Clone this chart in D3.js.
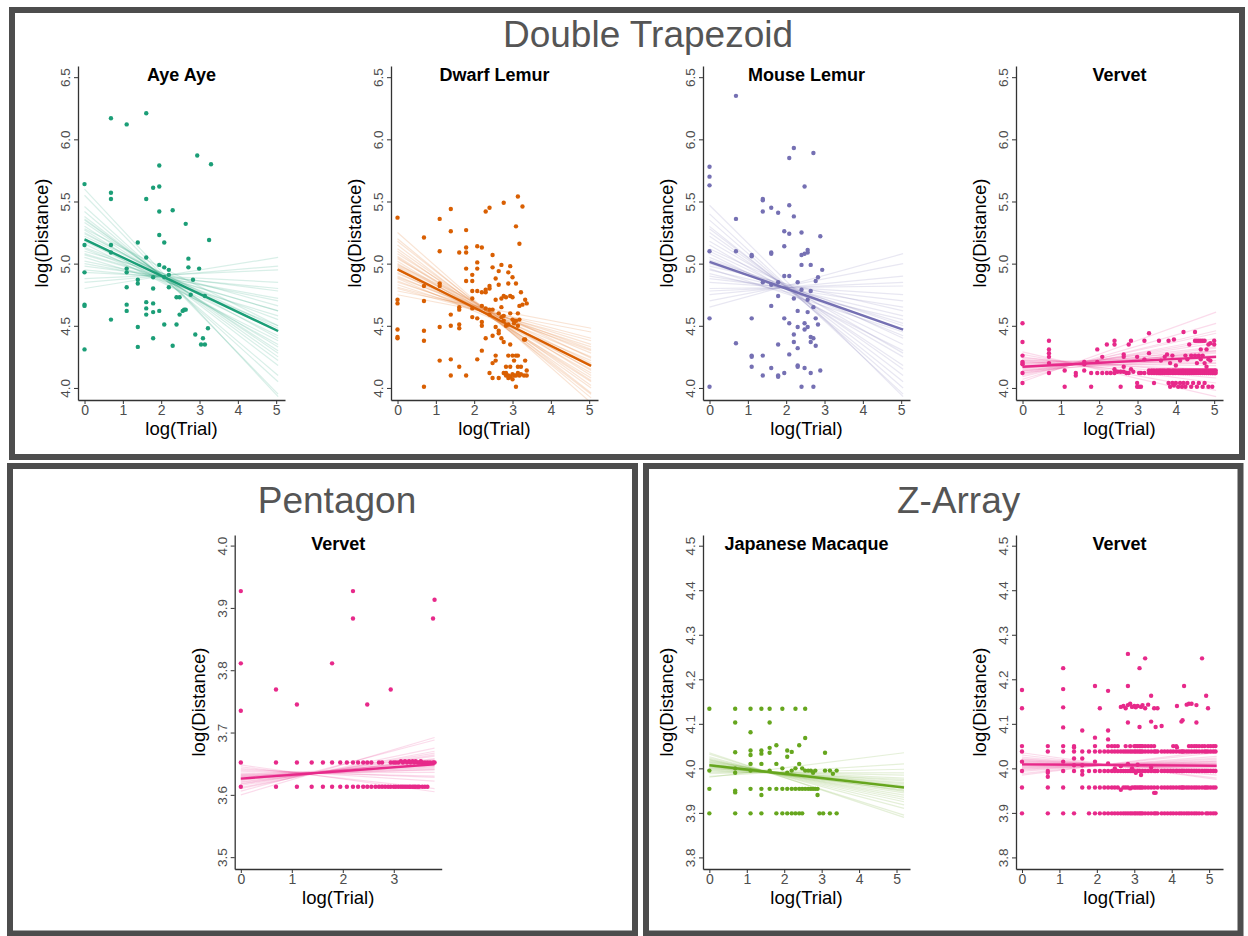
<!DOCTYPE html>
<html>
<head>
<meta charset="utf-8">
<script src="https://cdn.jsdelivr.net/npm/d3@7"></script>
<style>
  body { margin: 0; background: #fff; }
  svg { display: block; font-family: "Liberation Sans", Arial, sans-serif; }
</style>
</head>
<body>
<div id="chart"></div>
<script>
// ---- data: [log(Trial), [log(Distance) values...]] ----
var ayeAyePoints = [
  [0, [5.64, 5.15, 4.93, 4.67, 4.66, 4.31]],
  [0.69, [6.17, 5.57, 5.52, 5.15, 5.09, 4.55]],
  [1.10, [6.12, 4.96, 4.93, 4.81, 4.67, 4.62]],
  [1.39, [5.17, 4.87, 4.84, 4.49, 4.33]],
  [1.61, [6.21, 5.52, 5.05, 4.69, 4.64, 4.59]],
  [1.79, [5.61, 4.89, 4.80, 4.68, 4.61, 4.40]],
  [1.95, [5.79, 5.62, 5.42, 5.23, 4.99, 4.62]],
  [2.08, [5.17, 4.97, 4.89, 4.51]],
  [2.20, [4.95, 4.91, 4.81]],
  [2.30, [5.43, 4.34]],
  [2.40, [4.73, 4.51]],
  [2.48, [4.73, 4.59]],
  [2.56, [4.62]],
  [2.60, [4.63]],
  [2.64, [5.32, 4.63]],
  [2.71, [5.04, 4.97]],
  [2.77, [4.75]],
  [2.83, [4.87]],
  [2.89, [4.43]],
  [2.94, [5.87]],
  [2.99, [4.96]],
  [3.04, [4.35]],
  [3.09, [4.40]],
  [3.14, [4.35, 4.74]],
  [3.22, [4.48]],
  [3.25, [5.19]],
  [3.30, [5.80]]
];
var dwarfLemurPoints = [
  [0, [5.37, 4.71, 4.68, 4.47, 4.41, 4.40]],
  [0.69, [5.21, 4.82, 4.70, 4.46, 4.38, 4.01]],
  [1.10, [5.36, 5.10, 4.84, 4.82, 4.49, 4.22]],
  [1.39, [5.44, 5.26, 4.59, 4.50, 4.23, 4.10]],
  [1.61, [5.09, 4.65, 4.63, 4.51, 4.48, 4.17]],
  [1.79, [5.27, 5.13, 5.09, 4.96, 4.86, 4.10]],
  [1.95, [4.91, 4.86, 4.78, 4.72, 4.64, 4.57]],
  [2.08, [5.14, 5.01, 4.96, 4.78, 4.56, 4.23]],
  [2.20, [5.13, 4.77, 4.66, 4.53, 4.50, 4.30]],
  [2.30, [5.42, 4.79, 4.77, 4.64, 4.40]],
  [2.40, [5.45, 4.82, 4.80, 4.63, 4.59, 4.12]],
  [2.48, [5.07, 4.97, 4.63, 4.42, 4.20, 4.08]],
  [2.56, [4.88, 4.71, 4.49, 4.26, 4.22]],
  [2.64, [4.94, 4.83, 4.60, 4.46, 4.44, 4.08]],
  [2.71, [4.99, 4.72, 4.65, 4.57, 4.40]],
  [2.77, [5.49, 4.74, 4.58, 4.54, 4.37, 4.12]],
  [2.83, [4.73, 4.50, 4.17, 4.12, 4.10]],
  [2.89, [4.93, 4.84, 4.51, 4.26, 4.10, 4.08]],
  [2.94, [4.98, 4.74, 4.60, 4.35, 4.17, 4.09]],
  [3.00, [4.89, 4.73, 4.55, 4.26, 4.11, 4.07]],
  [3.04, [4.54, 4.52, 4.22, 4.10]],
  [3.09, [5.30, 4.84, 4.54, 4.26, 4.10, 4.01]],
  [3.14, [5.54, 4.60, 4.50, 4.26, 4.17, 4.12]],
  [3.18, [5.16, 4.66, 4.55, 4.10]],
  [3.22, [4.77, 4.17, 4.11]],
  [3.26, [5.46, 4.67]],
  [3.30, [4.39, 4.10]],
  [3.33, [4.71, 4.39, 4.22]],
  [3.37, [4.68, 4.14, 4.10]]
];
var mouseLemurPoints = [
  [0, [5.78, 5.70, 5.63, 5.10, 4.56, 4.01]],
  [0.69, [6.35, 5.36, 5.10, 4.36]],
  [1.10, [5.07, 5.06, 4.56, 4.26, 4.25, 4.17]],
  [1.39, [5.52, 5.51, 5.42, 4.85, 4.26, 4.10]],
  [1.61, [5.45, 5.09, 5.08, 4.83, 4.66, 4.16]],
  [1.79, [5.41, 4.85, 4.74, 4.35, 4.10, 4.09]],
  [1.95, [5.26, 5.14, 4.90, 4.56, 4.12]],
  [2.08, [5.85, 5.47, 5.24, 4.90, 4.52, 4.27]],
  [2.20, [5.93, 5.38, 4.72, 4.43, 4.37]],
  [2.30, [4.85, 4.62, 4.49, 4.32, 4.18, 4.17]],
  [2.40, [5.25, 5.07, 4.99, 4.79, 4.01]],
  [2.48, [5.62, 5.08, 4.52, 4.47, 4.16]],
  [2.56, [5.11, 5.09, 4.71, 4.61, 4.49]],
  [2.64, [4.99, 4.78, 4.41, 4.37, 4.12]],
  [2.71, [5.89, 4.65, 4.40, 4.01]],
  [2.77, [4.86, 4.56, 4.34]],
  [2.83, [4.89, 4.51]],
  [2.89, [5.22, 4.14]],
  [2.94, [4.95]]
];
var vervetDTPoints = [
  [0, [4.52, 4.37, 4.26, 4.21, 4.20, 4.19, 4.12, 4.04]],
  [0.69, [4.38, 4.31, 4.28, 4.25, 4.20, 4.12]],
  [1.10, [4.14, 4.01]],
  [1.39, [4.12, 4.10]],
  [1.61, [4.21, 4.19, 4.14]],
  [1.79, [4.12, 4.01]],
  [1.95, [4.31, 4.21, 4.12]],
  [2.08, [4.25, 4.12]],
  [2.20, [4.35, 4.12]],
  [2.30, [4.12]],
  [2.40, [4.38, 4.35, 4.15, 4.12]],
  [2.48, [4.13]],
  [2.56, [4.13, 4.01]],
  [2.64, [4.27, 4.25, 4.17, 4.13]],
  [2.71, [4.12]],
  [2.77, [4.35, 4.12]],
  [2.83, [4.38, 4.15]],
  [2.89, [4.13]],
  [2.99, [4.25, 4.04, 4.01]],
  [3.04, [4.12, 4.01]],
  [3.09, [4.12, 4.01]],
  [3.18, [4.38, 4.23, 4.12]],
  [3.30, [4.44, 4.28, 4.14, 4.12]],
  [3.37, [4.14, 4.12]],
  [3.43, [4.14, 4.12, 4.04]],
  [3.50, [4.14, 4.12]],
  [3.56, [4.38, 4.14, 4.12]],
  [3.61, [4.22, 4.14, 4.12]],
  [3.66, [4.14, 4.12]],
  [3.71, [4.25, 4.14, 4.12]],
  [3.77, [4.27, 4.14, 4.12]],
  [3.81, [4.38, 4.14, 4.12, 4.04]],
  [3.85, [4.20, 4.14, 4.12, 4.01]],
  [3.91, [4.26, 4.14, 4.12, 4.04]],
  [3.95, [4.39, 4.14, 4.12, 4.02]],
  [4.00, [4.18, 4.14, 4.12, 4.04]],
  [4.06, [4.14, 4.12, 4.01]],
  [4.11, [4.22, 4.14, 4.12, 4.04]],
  [4.16, [4.14, 4.12, 4.01]],
  [4.20, [4.45, 4.14, 4.12, 4.04]],
  [4.25, [4.26, 4.14, 4.12, 4.01]],
  [4.30, [4.23, 4.14, 4.12, 4.04]],
  [4.35, [4.35, 4.14, 4.12]],
  [4.40, [4.26, 4.14, 4.12, 4.01]],
  [4.45, [4.14, 4.12, 4.04]],
  [4.50, [4.45, 4.38, 4.26, 4.14, 4.12]],
  [4.55, [4.38, 4.20, 4.14, 4.12, 4.01]],
  [4.60, [4.38, 4.26, 4.14, 4.12, 4.04]],
  [4.65, [4.38, 4.31, 4.23, 4.14, 4.12]],
  [4.70, [4.38, 4.26, 4.14, 4.12, 4.01]],
  [4.75, [4.38, 4.20, 4.14, 4.12, 4.04]],
  [4.80, [4.31, 4.17, 4.14, 4.12]],
  [4.85, [4.35, 4.23, 4.14, 4.12, 4.01]],
  [4.90, [4.36, 4.22, 4.14, 4.12]],
  [4.95, [4.14, 4.12, 4.01]],
  [5.00, [4.38, 4.35, 4.14, 4.12]],
  [5.04, [4.14, 4.12]]
];
var pentagonVervetPoints = [
  [0, [3.927, 3.811, 3.735, 3.652, 3.613]],
  [0.69, [3.769, 3.652, 3.613]],
  [1.10, [3.745, 3.652, 3.613]],
  [1.39, [3.652, 3.613]],
  [1.61, [3.652, 3.613]],
  [1.79, [3.811, 3.652, 3.613]],
  [1.95, [3.652, 3.613]],
  [2.08, [3.652, 3.613]],
  [2.20, [3.927, 3.883, 3.652, 3.613]],
  [2.30, [3.652, 3.613]],
  [2.40, [3.652, 3.613]],
  [2.48, [3.745, 3.652, 3.613]],
  [2.56, [3.652, 3.613]],
  [2.64, [3.613]],
  [2.71, [3.652, 3.613]],
  [2.77, [3.652, 3.613]],
  [2.83, [3.613]],
  [2.89, [3.613]],
  [2.94, [3.769, 3.652, 3.613]],
  [3.00, [3.652, 3.613]],
  [3.04, [3.652, 3.613]],
  [3.09, [3.652, 3.613]],
  [3.14, [3.654, 3.613]],
  [3.18, [3.652, 3.613]],
  [3.22, [3.654, 3.613]],
  [3.26, [3.652, 3.613]],
  [3.30, [3.654, 3.613]],
  [3.33, [3.652, 3.613]],
  [3.37, [3.654, 3.613]],
  [3.40, [3.652, 3.613]],
  [3.43, [3.654, 3.613]],
  [3.47, [3.652, 3.613]],
  [3.50, [3.652, 3.613]],
  [3.53, [3.654]],
  [3.56, [3.652, 3.613]],
  [3.61, [3.652, 3.613]],
  [3.66, [3.652, 3.613]],
  [3.71, [3.652]],
  [3.77, [3.883, 3.652]],
  [3.80, [3.913, 3.652]]
];
var japMacaquePoints = [
  [0, [4.134, 3.995, 3.954, 3.899]],
  [0.69, [4.134, 4.103, 4.036, 4.000, 3.990, 3.950, 3.946, 3.899]],
  [1.10, [4.134, 4.081, 4.040, 4.030, 4.010, 3.995, 3.954, 3.899]],
  [1.39, [4.134, 4.040, 4.033, 4.010, 3.954, 3.940, 3.899]],
  [1.61, [4.134, 4.103, 4.046, 4.035, 3.995, 3.954]],
  [1.79, [4.052, 4.010, 3.954, 3.899]],
  [1.95, [4.134, 4.000, 3.954, 3.899]],
  [2.08, [4.040, 4.026, 3.990, 3.954, 3.899]],
  [2.20, [4.037, 3.995, 3.954, 3.899]],
  [2.30, [4.134, 4.000, 3.954, 3.899]],
  [2.40, [4.052, 4.010, 3.954, 3.899]],
  [2.48, [4.000, 3.954, 3.899]],
  [2.56, [4.134, 4.068, 3.995, 3.954]],
  [2.64, [3.995, 3.954]],
  [2.71, [3.995, 3.954]],
  [2.77, [3.990, 3.954]],
  [2.83, [3.995, 3.954]],
  [2.89, [3.954, 3.940]],
  [2.94, [3.899]],
  [3.04, [3.899]],
  [3.09, [4.035, 3.995]],
  [3.22, [3.995, 3.899]],
  [3.30, [3.988]],
  [3.40, [3.995, 3.899]]
];
var zArrayVervetPoints = [
  [0, [4.176, 4.135, 4.050, 4.038, 4.015, 3.994, 3.957, 3.899]],
  [0.69, [4.050, 4.038, 3.994, 3.990, 3.981, 3.957, 3.899]],
  [1.10, [4.225, 4.178, 4.137, 4.092, 4.050, 4.038, 4.015, 3.994, 3.957, 3.899]],
  [1.39, [4.050, 4.047, 4.038, 4.022, 4.007, 3.994, 3.899]],
  [1.61, [4.085, 4.038, 4.022, 4.007, 3.994, 3.986, 3.957]],
  [1.79, [4.038, 3.994, 3.957, 3.899]],
  [1.95, [4.185, 4.069, 4.050, 4.038, 4.015, 3.994, 3.957, 3.899]],
  [2.08, [4.135, 4.038, 3.994, 3.957, 3.899]],
  [2.20, [4.038, 3.994, 3.957, 3.899]],
  [2.30, [4.174, 4.085, 4.065, 4.050, 4.038, 4.011, 3.994, 3.957, 3.899]],
  [2.40, [4.050, 4.038, 3.994, 3.957, 3.899]],
  [2.48, [4.050, 4.038, 4.000, 3.994, 3.957, 3.899]],
  [2.56, [4.050, 4.038, 3.994, 3.957, 3.899]],
  [2.64, [4.138, 4.038, 4.005, 3.994, 3.952, 3.899]],
  [2.71, [4.140, 4.038, 3.994, 3.957, 3.899]],
  [2.77, [4.135, 4.050, 4.038, 3.994, 3.957, 3.899]],
  [2.83, [4.257, 4.185, 4.142, 4.103, 4.038, 4.010, 3.994, 3.957, 3.899]],
  [2.89, [4.145, 4.050, 4.038, 3.994, 3.955, 3.899]],
  [2.94, [4.138, 4.038, 4.000, 3.994, 3.957, 3.899]],
  [3.00, [4.140, 4.050, 4.038, 3.994, 3.957, 3.899]],
  [3.04, [4.137, 4.050, 4.038, 3.990, 3.957, 3.899]],
  [3.09, [4.140, 4.050, 4.038, 4.008, 3.994, 3.957, 3.899]],
  [3.14, [4.225, 4.093, 4.050, 4.038, 3.994, 3.957, 3.899]],
  [3.18, [4.138, 4.050, 4.038, 3.985, 3.957, 3.899]],
  [3.22, [4.142, 4.050, 4.038, 3.994, 3.957, 3.899]],
  [3.29, [4.247, 4.135, 4.050, 4.038, 3.994, 3.957, 3.899]],
  [3.37, [4.143, 4.050, 4.038, 3.994, 3.957, 3.899]],
  [3.45, [4.163, 4.105, 4.050, 4.038, 4.002, 3.994, 3.957, 3.899]],
  [3.53, [4.135, 4.050, 4.038, 3.994, 3.957, 3.945, 3.899]],
  [3.57, [4.093, 4.038, 3.994, 3.945, 3.899]],
  [3.62, [4.135, 4.038, 3.994, 3.957, 3.899]],
  [3.73, [4.095, 4.038, 3.994, 3.957, 3.899]],
  [3.81, [4.038, 3.994, 3.957, 3.899]],
  [3.89, [4.038, 3.994, 3.957, 3.899]],
  [3.97, [4.038, 3.994, 3.957, 3.899]],
  [4.04, [4.050, 4.038, 3.994, 3.957, 3.899]],
  [4.12, [4.050, 4.038, 3.994, 3.957, 3.899]],
  [4.14, [4.140, 4.047, 3.994]],
  [4.20, [4.038, 3.994, 3.957, 3.899]],
  [4.26, [4.105, 4.038, 3.994, 3.957, 3.899]],
  [4.29, [4.108, 4.038, 3.994, 3.957]],
  [4.33, [4.185, 4.038, 3.994, 3.957, 3.899]],
  [4.40, [4.143, 4.038, 3.994, 3.957, 3.899]],
  [4.46, [4.145, 4.050, 4.038, 3.994, 3.957, 3.899]],
  [4.53, [4.145, 4.050, 4.038, 3.994, 3.957, 3.899]],
  [4.60, [4.050, 4.038, 3.994, 3.957, 3.899]],
  [4.66, [4.142, 4.103, 4.050, 4.038, 3.994, 3.957, 3.899]],
  [4.73, [4.050, 4.038, 3.994, 3.957, 3.899]],
  [4.81, [4.247, 4.050, 4.038, 3.994, 3.957, 3.899]],
  [4.88, [4.050, 4.038, 3.994, 3.957]],
  [4.92, [4.163, 4.038, 3.994, 3.957, 3.899]],
  [4.97, [4.135, 4.050, 4.038, 3.994, 3.957, 3.899]],
  [5.04, [4.050, 4.038, 3.994, 3.957, 3.899]],
  [5.11, [4.050, 4.038, 3.994, 3.957, 3.899]],
  [5.17, [4.050, 4.038, 3.994, 3.957, 3.899]]
];

// posterior draws: [fitted value at first trial, fitted value at last trial]
var ayeAyeDraws = [[5.19,4.46],[5.30,4.30],[5.08,4.62],[5.42,4.10],[4.98,4.78],[5.25,4.40],[5.13,4.55],[5.36,4.22],
  [5.02,4.70],[5.55,3.95],[4.88,4.95],[5.22,4.48],[5.16,4.38],[5.28,4.50],[5.10,4.66],[5.46,4.05],[4.93,4.85],
  [5.33,4.28],[5.05,4.58],[5.20,4.35],[5.38,4.18],[4.80,5.05],[5.12,4.50],[5.27,4.33],[5.00,4.72],[5.60,3.93],
  [5.18,4.42],[4.95,4.80],[5.35,4.25],[5.07,4.62],[4.85,4.98],[5.24,4.45]];
var dwarfLemurDraws = [[4.95,4.18],[5.05,4.05],[4.86,4.30],[5.15,3.95],[4.80,4.38],[5.00,4.12],[4.90,4.25],[5.10,4.00],
  [4.83,4.33],[5.25,3.88],[4.75,4.45],[4.98,4.20],[5.02,4.08],[4.92,4.28],[5.08,4.10],[4.88,4.22],[5.20,3.92],
  [4.78,4.48],[4.97,4.15],[5.12,4.02],[4.85,4.35],[5.04,4.14],[4.93,4.19],[5.18,3.96],[4.81,4.40],[4.99,4.24],
  [5.06,4.06],[4.89,4.31]];
var mouseLemurDraws = [[5.02,4.47],[5.15,4.25],[4.90,4.65],[5.30,4.05],[4.80,4.82],[5.10,4.35],[4.95,4.58],[5.40,3.95],
  [4.70,5.00],[5.05,4.42],[5.22,4.18],[4.85,4.75],[5.00,4.52],[5.47,3.93],[4.65,5.08],[5.12,4.40],[4.92,4.55],
  [5.28,4.10],[4.75,4.90],[5.08,4.30],[4.98,4.62],[5.35,4.00],[4.88,4.70],[5.18,4.28],[5.03,4.50],[4.78,4.85],
  [5.25,4.15],[4.96,4.45]];
var vervetDTDraws = [[4.17,4.25],[4.20,4.18],[4.14,4.32],[4.23,4.10],[4.11,4.40],[4.19,4.22],[4.15,4.29],[4.25,4.04],
  [4.09,4.46],[4.18,4.26],[4.21,4.15],[4.13,4.36],[4.16,4.28],[4.27,3.98],[4.07,4.52],[4.22,4.20],[4.12,4.30],
  [4.24,4.12],[4.10,4.44],[4.18,4.20],[4.16,4.33],[4.29,3.93],[4.05,4.61],[4.20,4.26],[4.14,4.24],[4.22,4.08],
  [4.12,4.38],[4.17,4.30]];
var pentagonVervetDraws = [[3.626,3.649],[3.632,3.640],[3.620,3.658],[3.638,3.630],[3.615,3.667],[3.629,3.645],
  [3.623,3.654],[3.642,3.622],[3.610,3.675],[3.628,3.652],[3.635,3.636],[3.618,3.662],[3.625,3.648],[3.645,3.610],
  [3.606,3.688],[3.631,3.643],[3.621,3.657],[3.640,3.628],[3.612,3.670],[3.627,3.650],[3.633,3.646],[3.600,3.692],
  [3.648,3.605],[3.624,3.655],[3.630,3.641],[3.617,3.664]];
var japMacaqueDraws = [[4.007,3.957],[4.014,3.940],[4.000,3.972],[4.020,3.925],[3.994,3.985],[4.010,3.950],
  [4.003,3.965],[4.026,3.910],[3.988,3.998],[4.008,3.960],[4.017,3.935],[3.998,3.978],[4.005,3.952],[4.032,3.895],
  [3.982,4.010],[4.012,3.945],[4.001,3.968],[4.023,3.918],[3.991,3.990],[4.009,3.955],[4.004,3.962],[4.035,3.890],
  [3.980,4.035],[4.015,3.948],[3.996,3.975],[4.019,3.930]];
var zArrayVervetDraws = [[4.009,4.006],[4.015,3.998],[4.003,4.014],[4.020,3.992],[3.998,4.020],[4.012,4.002],
  [4.006,4.010],[4.025,3.985],[3.993,4.027],[4.010,4.008],[4.017,3.995],[4.001,4.017],[4.008,4.004],[4.030,3.978],
  [3.988,4.035],[4.013,4.000],[4.004,4.012],[4.022,3.990],[3.996,4.023],[4.011,4.007],[4.035,3.975],[3.985,4.040],
  [4.007,4.011],[4.018,3.996],[4.000,4.016]];

// mean fitted line: [value at first trial, value at last trial]
var ayeAyeFit = [5.195, 4.458];
var dwarfLemurFit = [4.954, 4.177];
var mouseLemurFit = [5.015, 4.470];
var vervetDTFit = [4.171, 4.250];
var pentagonVervetFit = [3.626, 3.649];
var japMacaqueFit = [4.007, 3.957];
var zArrayVervetFit = [4.009, 4.006];

// log(Trial) span of each fit
var topTrialRange = [0, 5.05];
var pentagonTrialRange = [0, 3.80];
var zArrayTrialRange = [0, 5.20];

// tick values
var topYTicks = [4.0, 4.5, 5.0, 5.5, 6.0, 6.5];
var topXTicks = [0, 1, 2, 3, 4, 5];
var pentagonYTicks = [3.5, 3.6, 3.7, 3.8, 3.9, 4.0];
var pentagonXTicks = [0, 1, 2, 3];
var zArrayYTicks = [3.8, 3.9, 4.0, 4.1, 4.2, 4.3, 4.4, 4.5];
var zArrayXTicks = [0, 1, 2, 3, 4, 5];

var shapeTitles = ["Double Trapezoid", "Pentagon", "Z-Array"];

// Dark2 colours
var colAye = "#1b9e77", colDwarf = "#d95f02", colMouse = "#7570b3",
    colVervet = "#e7298a", colMacaque = "#66a61e";

var canvas = d3.select("#chart").append("svg")
    .attr("width", 1248).attr("height", 936);

// frames round each shape group
var frames = [
  {x: 12, y: 10, w: 1230, h: 447},
  {x: 10, y: 466, w: 625, h: 467.5},
  {x: 646, y: 466, w: 594.5, h: 467.5}
];
canvas.selectAll("rect.frame").data(frames).enter().append("rect")
    .attr("class", "frame")
    .attr("x", function(d) { return d.x; })
    .attr("y", function(d) { return d.y; })
    .attr("width", function(d) { return d.w; })
    .attr("height", function(d) { return d.h; })
    .attr("fill", "none")
    .attr("stroke", "#4d4d4d")
    .attr("stroke-width", 6);

// big group titles
var titlePos = [[648, 47], [337, 513], [958.6, 513]];
canvas.selectAll("text.shape").data(shapeTitles).enter().append("text")
    .attr("class", "shape")
    .attr("x", function(d, i) { return titlePos[i][0]; })
    .attr("y", function(d, i) { return titlePos[i][1]; })
    .attr("text-anchor", "middle")
    .attr("font-size", 37)
    .attr("fill", "#555555")
    .text(function(d) { return d; });

var topY = [3.903, 6.59], topX = [-0.17, 5.23];
var panels = [
  {name: "Aye Aye", left: 78, top: 66, points: ayeAyePoints, draws: ayeAyeDraws, fit: ayeAyeFit,
   range: topTrialRange, color: colAye, xDomain: topX, yDomain: topY, xTicks: topXTicks, yTicks: topYTicks},
  {name: "Dwarf Lemur", left: 391, top: 66, points: dwarfLemurPoints, draws: dwarfLemurDraws, fit: dwarfLemurFit,
   range: topTrialRange, color: colDwarf, xDomain: topX, yDomain: topY, xTicks: topXTicks, yTicks: topYTicks},
  {name: "Mouse Lemur", left: 703, top: 66, points: mouseLemurPoints, draws: mouseLemurDraws, fit: mouseLemurFit,
   range: topTrialRange, color: colMouse, xDomain: topX, yDomain: topY, xTicks: topXTicks, yTicks: topYTicks},
  {name: "Vervet", left: 1016, top: 66, points: vervetDTPoints, draws: vervetDTDraws, fit: vervetDTFit,
   range: topTrialRange, color: colVervet, xDomain: topX, yDomain: topY, xTicks: topXTicks, yTicks: topYTicks},
  {name: "Vervet", left: 234.7, top: 535, points: pentagonVervetPoints, draws: pentagonVervetDraws, fit: pentagonVervetFit,
   range: pentagonTrialRange, color: colVervet, xDomain: [-0.12, 3.94], yDomain: [3.481, 4.017],
   xTicks: pentagonXTicks, yTicks: pentagonYTicks},
  {name: "Japanese Macaque", left: 703, top: 535, points: japMacaquePoints, draws: japMacaqueDraws, fit: japMacaqueFit,
   range: zArrayTrialRange, color: colMacaque, xDomain: [-0.17, 5.36], yDomain: [3.774, 4.524],
   xTicks: zArrayXTicks, yTicks: zArrayYTicks},
  {name: "Vervet", left: 1016, top: 535, points: zArrayVervetPoints, draws: zArrayVervetDraws, fit: zArrayVervetFit,
   range: zArrayTrialRange, color: colVervet, xDomain: [-0.16, 5.37], yDomain: [3.774, 4.524],
   xTicks: zArrayXTicks, yTicks: zArrayYTicks}
];

panels.forEach(function(p, i) { plot_panel(canvas, p, i); });

// one small scatter panel with its fan of draws and the mean fit
function plot_panel(canvas, p, idx) {
    var width = 207, height = 334;
    var g = canvas.append("g")
        .attr("transform", "translate(" + p.left + "," + p.top + ")");

    var x = d3.scaleLinear().domain(p.xDomain).range([0, width]);
    var y = d3.scaleLinear().domain(p.yDomain).range([height, 0]);

    g.append("clipPath").attr("id", "clip" + idx)
      .append("rect").attr("width", width).attr("height", height);

    var plotArea = g.append("g").attr("clip-path", "url(#clip" + idx + ")");

    plotArea.selectAll("line.draw")
        .data(p.draws)
      .enter().append("line")
        .attr("class", "draw")
        .attr("x1", x(p.range[0]))
        .attr("x2", x(p.range[1]))
        .attr("y1", function(d) { return y(d[0]); })
        .attr("y2", function(d) { return y(d[1]); })
        .attr("stroke", p.color)
        .attr("stroke-opacity", 0.17)
        .attr("stroke-width", 1.2);

    var pts = [];
    p.points.forEach(function(c) {
        c[1].forEach(function(v) { pts.push([c[0], v]); });
    });

    plotArea.selectAll("circle")
        .data(pts)
      .enter().append("circle")
        .attr("cx", function(d) { return x(d[0]); })
        .attr("cy", function(d) { return y(d[1]); })
        .attr("r", 2.2)
        .attr("fill", p.color);

    plotArea.append("line")
        .attr("x1", x(p.range[0]))
        .attr("x2", x(p.range[1]))
        .attr("y1", y(p.fit[0]))
        .attr("y2", y(p.fit[1]))
        .attr("stroke", p.color)
        .attr("stroke-width", 2.4);

    // axes
    var yaxis = d3.axisLeft(y).tickValues(p.yTicks).tickSize(4).tickSizeOuter(0)
        .tickFormat(d3.format(".1f"));
    var xaxis = d3.axisBottom(x).tickValues(p.xTicks).tickSize(4).tickSizeOuter(0)
        .tickPadding(1).tickFormat(d3.format("d"));

    var ya = g.append("g").call(yaxis)
        .attr("color", "#333333")
        .attr("font-family", "Liberation Sans, Arial, sans-serif")
        .attr("font-size", 13.5);
    ya.select(".domain").attr("stroke-width", 1.3);
    ya.selectAll("text")
        .attr("transform", "rotate(-90)")
        .attr("x", 0).attr("y", -8).attr("dy", 0)
        .style("text-anchor", "middle")
        .attr("fill", "#4d4d4d");

    var xa = g.append("g").call(xaxis)
        .attr("transform", "translate(0," + height + ")")
        .attr("color", "#333333")
        .attr("font-family", "Liberation Sans, Arial, sans-serif")
        .attr("font-size", 14);
    xa.select(".domain").attr("stroke-width", 1.3);
    xa.selectAll("text").attr("fill", "#4d4d4d");

    // labels
    g.append("text")
        .attr("x", width / 2).attr("y", 15)
        .attr("text-anchor", "middle")
        .attr("font-size", 18).attr("font-weight", "bold")
        .attr("fill", "#000")
        .text(p.name);

    g.append("text")
        .attr("x", width / 2).attr("y", height + 35)
        .attr("text-anchor", "middle")
        .attr("font-size", 18.5)
        .attr("fill", "#000")
        .text("log(Trial)");

    g.append("text")
        .attr("transform", "translate(-30," + (height / 2) + ") rotate(-90)")
        .attr("text-anchor", "middle")
        .attr("font-size", 18.5)
        .attr("fill", "#000")
        .text("log(Distance)");
}
</script>
</body>
</html>
